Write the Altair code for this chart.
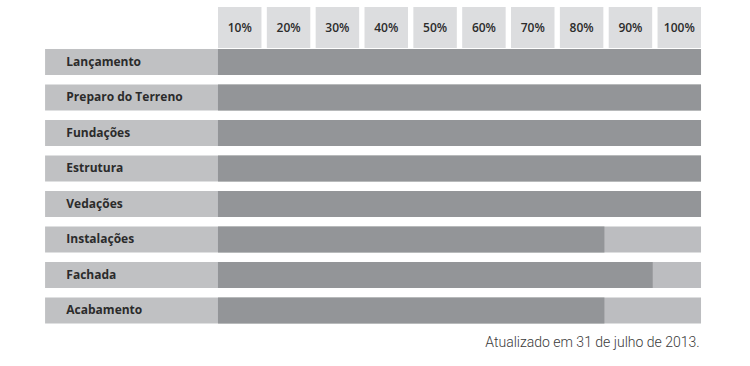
import altair as alt
import pandas as pd

stages = ["Lançamento", "Preparo do Terreno", "Fundações", "Estrutura",
          "Vedações", "Instalações", "Fachada", "Acabamento"]
progress = [100, 100, 100, 100, 100, 80, 90, 80]
ticks = [10, 20, 30, 40, 50, 60, 70, 80, 90, 100]
footer = "Atualizado em 31 de julho de 2013."

# layout constants (scale units)
LABEL_X0 = -35.8
CELL_W = 9.0
CELL_GAP = 1.0 / 0.9
ROW_H = 0.732

rows = pd.DataFrame({
    "stage": stages,
    "value": progress,
    "row": list(range(len(stages))),
})
rows["y0"] = rows["row"]
rows["y1"] = rows["row"] + ROW_H
rows["yc"] = rows["row"] + ROW_H / 2
rows["lx0"] = LABEL_X0
rows["zero"] = 0
rows["full"] = 100
rows["tx"] = -31.4

hdr = pd.DataFrame({"pct": ticks})
hdr["label"] = hdr["pct"].astype(str) + "%"
hdr["i"] = list(range(len(ticks)))
hdr["x0"] = hdr["i"] * (CELL_W + CELL_GAP)
hdr["x1"] = hdr["x0"] + CELL_W
hdr["xc"] = hdr["x0"] + CELL_W / 2
hdr["y0"] = -1.183
hdr["y1"] = -0.03
hdr["yc"] = -0.59

foot = pd.DataFrame({"t": [footer], "x": [99.7], "y": [8.28]})

xs = alt.Scale(domain=[-45.13, 110.14], nice=False, zero=False)
ys = alt.Scale(domain=[-1.380, 8.930], nice=False, zero=False, reverse=True)
X = lambda f: alt.X(f, type="quantitative", scale=xs, axis=None)
Y = lambda f: alt.Y(f, type="quantitative", scale=ys, axis=None)

header_cells = alt.Chart(hdr).mark_rect(color="#dcdddf").encode(
    x=X("x0"), x2="x1", y=Y("y0"), y2="y1")
header_text = alt.Chart(hdr).mark_text(
    font="Open Sans", fontSize=12, fontWeight=600, color="#2b2b2b",
    align="center", baseline="middle").encode(
    x=X("xc"), y=Y("yc"), text="label")

label_box = alt.Chart(rows).mark_rect(color="#c0c1c3").encode(
    x=X("lx0"), x2="zero", y=Y("y0"), y2="y1")
track = alt.Chart(rows).mark_rect(color="#bcbdc0").encode(
    x=X("zero"), x2="full", y=Y("y0"), y2="y1")
bars = alt.Chart(rows).mark_rect(color="#939598").encode(
    x=X("zero"), x2="value", y=Y("y0"), y2="y1")
labels = alt.Chart(rows).mark_text(
    font="Open Sans", fontSize=12, fontWeight="bold", color="#2b2b2b",
    align="left", baseline="middle").encode(
    x=X("tx"), y=Y("yc"), text="stage")

footer_text = alt.Chart(foot).mark_text(
    font="Roboto", fontSize=14, fontWeight=300, color="#3a3a3a",
    align="right", baseline="middle").encode(
    x=X("x"), y=Y("y"), text="t")

chart = alt.layer(header_cells, header_text, label_box, track, bars, labels,
                  footer_text).properties(
    width=750, height=366,
    autosize=alt.AutoSizeParams(type="none"),
    padding=0,
    background="white",
).configure_view(stroke=None)

chart.save("out.html", embed_options={"renderer": "svg", "actions": False})
